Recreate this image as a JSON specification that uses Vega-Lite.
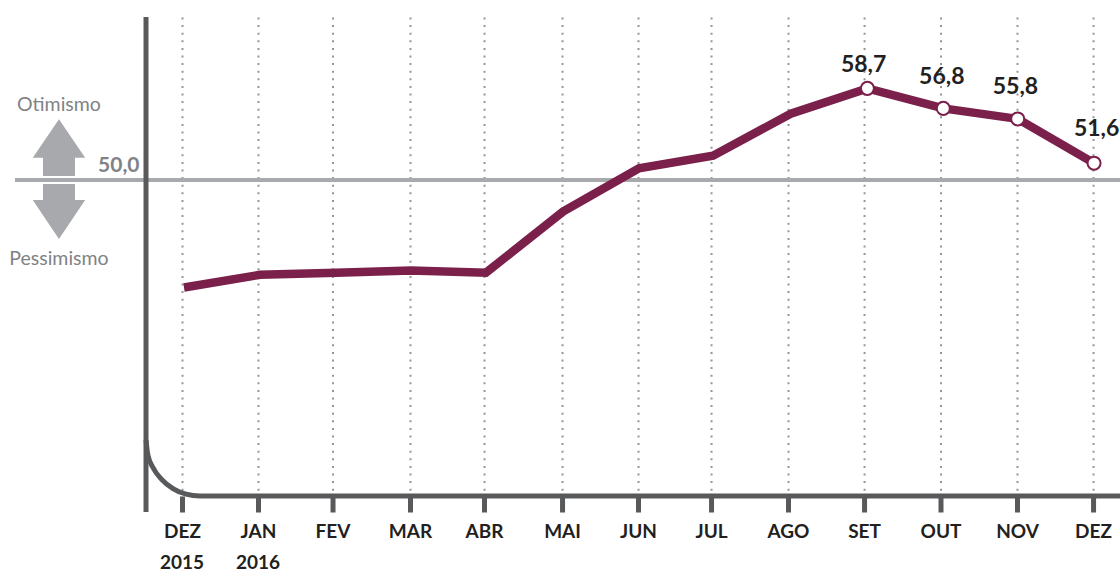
{
"$schema":"https://vega.github.io/schema/vega-lite/v6.json",
"width":974,"height":479,
"autosize":"none",
"padding":{"left":146,"top":17,"right":0,"bottom":76},
"background":"white",
"config":{"view":{"stroke":null},"font":"Lato"},
"encoding":{
"x":{"field":"x","type":"quantitative","stack":null,"scale":{"domain":[-0.4743,12.358],"nice":false,"zero":false},
"axis":{"title":null,"domain":false,"values":[0,1.001,1.983,3.004,3.979,5.007,6.008,6.97,7.984,8.986,9.993,11.001,12.003],
"labelExpr":"['DEZ','JAN','FEV','MAR','ABR','MAI','JUN','JUL','AGO','SET','OUT','NOV','DEZ'][indexof([0,1.001,1.983,3.004,3.979,5.007,6.008,6.97,7.984,8.986,9.993,11.001,12.003],datum.value)]",
"labelFont":"Lato","labelFontWeight":"bold","labelFontSize":19,"labelColor":"#231f20","labelPadding":10,"labelOverlap":false,"labelBound":false,"labelFlush":false,
"tickColor":"#58595b","tickWidth":5,"tickSize":16,"tickRound":false,
"grid":true,"gridColor":"#939598","gridWidth":2,"gridDash":[2,5.6]}},
"y":{"field":"y","type":"quantitative","stack":null,"scale":{"domain":[20,65.475],"nice":false,"zero":false},
"axis":{"title":null,"domain":false,"ticks":false,"grid":false,"values":[50],"labelExpr":"'50,0'",
"labelFont":"Lato","labelFontWeight":"bold","labelFontSize":21,"labelColor":"#808285","labelPadding":7,"labelOffset":-15}}
},
"layer":[
{"data":{"values":[{"x":-2.2,"x2":12.358,"y":50}]},"mark":{"type":"rule","color":"#a7a9ac","strokeWidth":4},"encoding":{"x2":{"field":"x2"}}},
{"data":{"values":[{"x":-0.4743,"y":65.475,"y2":18.48}]},"mark":{"type":"rule","color":"#58595b","strokeWidth":5},"encoding":{"y2":{"field":"y2"}}},
{"data":{"values":[
{"x":-0.474,"y":25.32},{"x":-0.451,"y":23.94},{"x":-0.379,"y":22.66},{"x":-0.266,"y":21.56},{"x":-0.119,"y":20.71},{"x":0.053,"y":20.18},{"x":0.237,"y":20},{"x":12.358,"y":20}]},
"mark":{"type":"line","color":"#58595b","strokeWidth":5,"interpolate":"monotone"},"encoding":{"order":{"field":"x"}}},
{"data":{"values":[{"seta":"Otimismo","x":-1.621,"y":50}]},
"mark":{"type":"point","filled":true,"fill":"#a7a9ac","stroke":null,"opacity":1,"size":4,"shape":"M0,-60.7L26.2,-22.3L16,-22.3L16,-4L-16,-4L-16,-22.3L-26.2,-22.3Z"}},
{"data":{"values":[{"seta":"Pessimismo","x":-1.621,"y":50}]},
"mark":{"type":"point","filled":true,"fill":"#a7a9ac","stroke":null,"opacity":1,"size":4,"shape":"M0,59L26.2,20L16,20L16,4L-16,4L-16,20L-26.2,20Z"}},
{"data":{"values":[
{"mes":"DEZ 2015","x":0.026,"y":39.8},{"mes":"JAN 2016","x":1.028,"y":41.0},{"mes":"FEV","x":2.03,"y":41.2},{"mes":"MAR","x":3.017,"y":41.4},{"mes":"ABR","x":4.005,"y":41.2},{"mes":"MAI","x":5.02,"y":47.0},{"mes":"JUN","x":6.02,"y":51.1},{"mes":"JUL","x":6.996,"y":52.3},{"mes":"AGO","x":8.02,"y":56.3},{"mes":"SET","x":9.03,"y":58.7},{"mes":"OUT","x":10.03,"y":56.8},{"mes":"NOV","x":11.01,"y":55.8},{"mes":"DEZ","x":12.016,"y":51.6}]},
"mark":{"type":"line","color":"#7b1f4b","strokeWidth":8.5,"strokeJoin":"miter"},"encoding":{"order":{"field":"x"}}},
{"data":{"values":[{"x":9.03,"y":58.7},{"x":10.03,"y":56.8},{"x":11.01,"y":55.8},{"x":12.016,"y":51.6}]},
"mark":{"type":"point","filled":true,"fill":"white","stroke":"#7b1f4b","strokeWidth":2,"size":170,"opacity":1}},
{"data":{"values":[{"t":"58,7","x":8.98,"y":60.92},{"t":"56,8","x":10.01,"y":59.78},{"t":"55,8","x":10.98,"y":58.83},{"t":"51,6","x":12.05,"y":54.84}]},
"mark":{"type":"text","font":"Lato","fontWeight":"bold","fontSize":23,"color":"#231f20","baseline":"middle","align":"center"},"encoding":{"text":{"field":"t"}}},
{"data":{"values":[{"t":"Otimismo","x":-1.621,"y":57.12},{"t":"Pessimismo","x":-1.621,"y":42.5}]},
"mark":{"type":"text","font":"Lato","fontSize":19.5,"color":"#808285","baseline":"middle","align":"center"},"encoding":{"text":{"field":"t"}}},
{"data":{"values":[{"t":"2015","x":0,"y":13.6},{"t":"2016","x":1.001,"y":13.6}]},
"mark":{"type":"text","font":"Lato","fontWeight":"bold","fontSize":19,"color":"#231f20","baseline":"middle","align":"center"},"encoding":{"text":{"field":"t"}}}
]
}
